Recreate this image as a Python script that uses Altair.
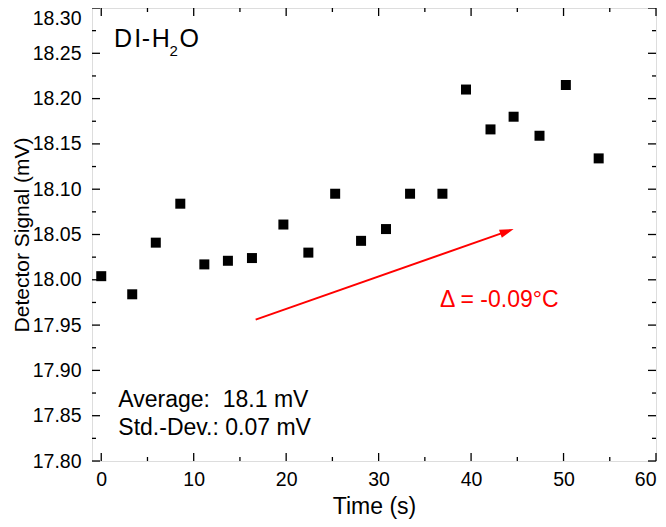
import math
import altair as alt
import pandas as pd

# ---- data ----
time_s = [0.0, 3.35, 5.9, 8.55, 11.15, 13.7, 16.3, 19.7, 22.4, 25.3,
          28.1, 30.8, 33.4, 36.9, 39.45, 42.1, 44.6, 47.4, 50.25, 53.8]
signal_mv = [18.004, 17.984, 18.041, 18.084, 18.017, 18.021, 18.024, 18.061, 18.030, 18.095,
             18.043, 18.056, 18.095, 18.095, 18.210, 18.166, 18.180, 18.159, 18.215, 18.134]

x_major = [0, 10, 20, 30, 40, 50, 60]
x_minor = [5, 15, 25, 35, 45, 55]
y_major = [17.80, 17.85, 17.90, 17.95, 18.00, 18.05, 18.10, 18.15, 18.20, 18.25, 18.30]
y_minor = [17.825, 17.875, 17.925, 17.975, 18.025, 18.075, 18.125, 18.175, 18.225, 18.275]

arrow_x = [16.7, 44.6]
arrow_y = [17.956, 18.056]

label_texts = ["Average:\u00a0\u00a018.1 mV", "Std.-Dev.: 0.07 mV"]
label_x = [1.85, 1.85]
label_y = [17.860, 17.8285]

delta_text = ["Δ = -0.09°C"]
delta_x = [36.64]
delta_y = [17.9705]

title_chars = ["D", "I", "-", "H", "2", "O"]
title_x = [2.35, 3.95, 4.83, 6.44, 7.83, 9.52]
title_y = [18.2566, 18.2566, 18.2566, 18.2566, 18.2475, 18.2566]
title_size = [25, 25, 25, 25, 15, 25]

X_DOM = [-1, 60]
Y_DOM = [17.80, 18.30]
W, H = 564, 453
FONT = "Liberation Sans"

xs = alt.Scale(domain=X_DOM, nice=False, zero=False)
ys = alt.Scale(domain=Y_DOM, nice=False, zero=False)

pts = pd.DataFrame({"t": time_s, "s": signal_mv})

points = alt.Chart(pts).mark_point(shape="square", filled=True, size=100, color="black", opacity=1).encode(
    x=alt.X("t:Q", scale=xs, axis=alt.Axis(
        title="Time (s)", values=x_major, format="d", ticks=False, tickSize=0, domain=False, grid=False,
        labelFontSize=19.5, labelPadding=9, titleFontSize=23, titleFont=FONT, labelFont=FONT,
        titlePadding=7, labelColor="black", titleColor="black", titleFontWeight="normal")),
    y=alt.Y("s:Q", scale=ys, axis=alt.Axis(
        title="Detector Signal (mV)", values=y_major, format=".2f", ticks=False, tickSize=0, domain=False,
        grid=False, labelFontSize=19.5, labelPadding=11, titleFontSize=21, titleFont=FONT, labelFont=FONT,
        titlePadding=0, labelColor="black", titleColor="black", titleFontWeight="normal",
        labelBaseline={"condition": {"test": "datum.value >= 18.29", "value": "top"}, "value": "middle"},
        labelOffset={"condition": {"test": "datum.value >= 18.29", "value": 1}, "value": 0})),
)

def tick_layer(vals, axis, length, side):
    df = pd.DataFrame({"v": vals})
    if axis == "x":
        if side == "bottom":
            enc = dict(x=alt.X("v:Q", scale=xs), y=alt.value(H), y2=alt.value(H - length))
        else:
            enc = dict(x=alt.X("v:Q", scale=xs), y=alt.value(0), y2=alt.value(length))
    else:
        if side == "left":
            enc = dict(y=alt.Y("v:Q", scale=ys), x=alt.value(0), x2=alt.value(length))
        else:
            enc = dict(y=alt.Y("v:Q", scale=ys), x=alt.value(W), x2=alt.value(W - length))
    return alt.Chart(df).mark_rule(color="black", strokeWidth=1.3).encode(**enc)

ticks = []
for side in ["bottom", "top"]:
    ticks.append(tick_layer(x_major, "x", 8, side))
    ticks.append(tick_layer(x_minor, "x", 4, side))
for side in ["left", "right"]:
    ticks.append(tick_layer(y_major, "y", 8, side))
    ticks.append(tick_layer(y_minor, "y", 4, side))

# arrow
px_per_x = W / (X_DOM[1] - X_DOM[0])
px_per_y = H / (Y_DOM[1] - Y_DOM[0])
dxp = (arrow_x[1] - arrow_x[0]) * px_per_x
dyp = -(arrow_y[1] - arrow_y[0]) * px_per_y
ang = math.degrees(math.atan2(dyp, dxp)) % 360
L = math.hypot(dxp, dyp)
head_len = 14
ux, uy = dxp / L, dyp / L
head_cx = arrow_x[1] - (head_len / 2) * ux / px_per_x
head_cy = arrow_y[1] + (head_len / 2) * uy / px_per_y
base_x = arrow_x[1] - (head_len - 1) * ux / px_per_x
base_y = arrow_y[1] + (head_len - 1) * uy / px_per_y

arrow_line = alt.Chart(pd.DataFrame({"x": [arrow_x[0], base_x], "y": [arrow_y[0], base_y]})).mark_line(
    color="#ff0000", strokeWidth=2).encode(x=alt.X("x:Q", scale=xs), y=alt.Y("y:Q", scale=ys))
arrow_head = alt.Chart(pd.DataFrame({"x": [head_cx], "y": [head_cy]})).mark_point(
    shape="M1,0L-1,-0.6L-1,0.6Z", size=head_len ** 2, filled=True, color="#ff0000", opacity=1,
    angle=ang).encode(x=alt.X("x:Q", scale=xs), y=alt.Y("y:Q", scale=ys))

stats = alt.Chart(pd.DataFrame({"x": label_x, "y": label_y, "t": label_texts})).mark_text(
    align="left", baseline="alphabetic", fontSize=23, font=FONT, color="black").encode(
    x=alt.X("x:Q", scale=xs), y=alt.Y("y:Q", scale=ys), text="t:N")

delta = alt.Chart(pd.DataFrame({"x": delta_x, "y": delta_y, "t": delta_text})).mark_text(
    align="left", baseline="alphabetic", fontSize=23, font=FONT, color="#ff0000").encode(
    x=alt.X("x:Q", scale=xs), y=alt.Y("y:Q", scale=ys), text="t:N")

ttl = alt.Chart(pd.DataFrame({"x": title_x, "y": title_y, "t": title_chars, "fs": title_size})).mark_text(
    align="center", baseline="alphabetic", font=FONT, color="black").encode(
    x=alt.X("x:Q", scale=xs), y=alt.Y("y:Q", scale=ys), text="t:N",
    size=alt.Size("fs:Q", scale=None, legend=None))

chart = alt.layer(*ticks, arrow_line, arrow_head, points, stats, delta, ttl).properties(
    width=W, height=H,
    autosize=alt.AutoSizeParams(type="none"),
    padding={"left": 84, "top": 0, "right": 2, "bottom": 58},
).configure_view(stroke="black", strokeWidth=1.5).configure(background="white")

chart.save("out.html", embed_options={"renderer": "svg", "actions": False})
